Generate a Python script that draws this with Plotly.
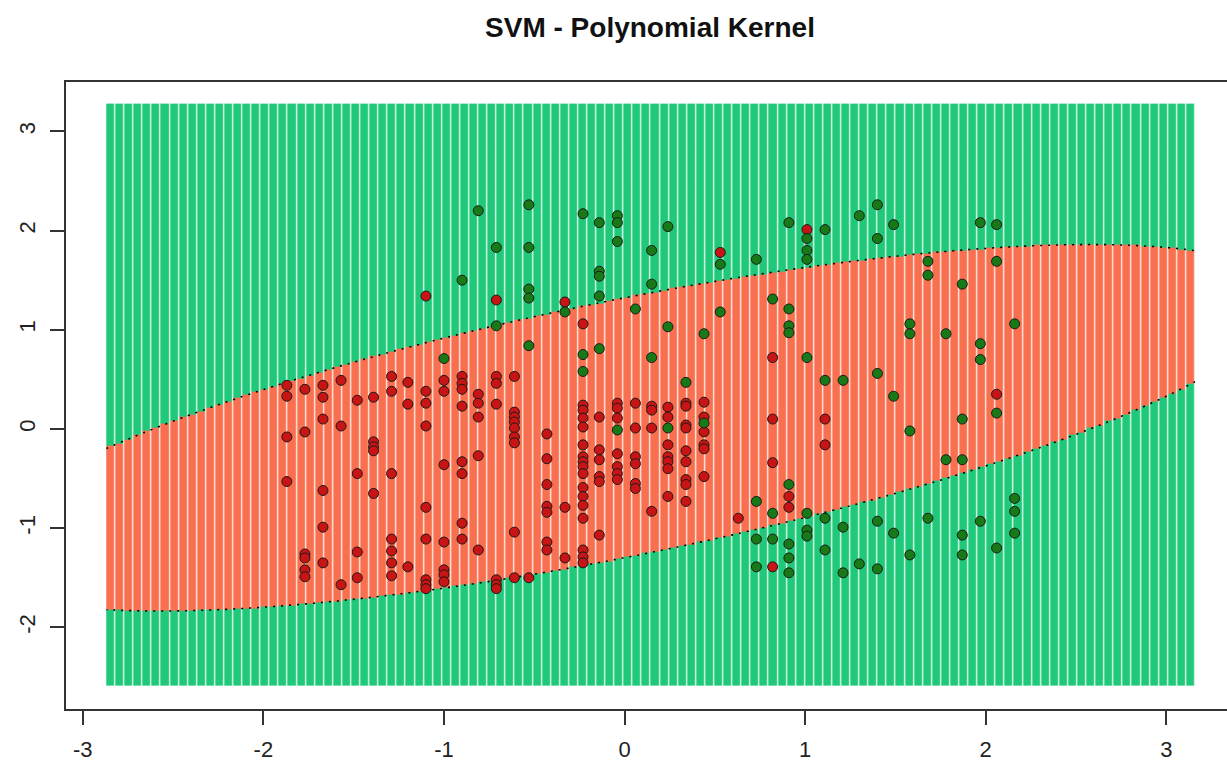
import numpy as np
import plotly.graph_objects as go

TITLE = "SVM - Polynomial Kernel"

# Observations of the "red" class (x1, x2), listed column by column
red_x = (
    [-1.87] * 4 + [-1.77] * 6 + [-1.67] * 6 + [-1.57] * 3 + [-1.48] * 4 + [-1.39] * 5
    + [-1.29] * 7 + [-1.20] * 3 + [-1.10] * 9 + [-1.00] * 7 + [-0.90] * 8 + [-0.81] * 5
    + [-0.71] * 7 + [-0.61] * 9 + [-0.53] * 1 + [-0.43] * 7 + [-0.33] * 3 + [-0.23] * 17
    + [-0.14] * 6 + [-0.04] * 7 + [0.06] * 6 + [0.15] * 4 + [0.24] * 7 + [0.34] * 9
    + [0.44] * 6 + [0.53] * 1 + [0.63] * 1 + [0.82] * 4 + [0.91] * 2 + [1.01] * 1
    + [1.11] * 2 + [2.06] * 1
)
red_y = [
    0.44, 0.33, -0.08, -0.53,
    0.40, -0.03, -1.26, -1.30, -1.42, -1.49,
    0.44, 0.32, 0.10, -0.62, -0.99, -1.35,
    0.49, 0.03, -1.57,
    0.29, -0.45, -1.24, -1.50,
    0.32, -0.13, -0.18, -0.22, -0.65,
    0.53, 0.38, -0.45, -1.11, -1.23, -1.35, -1.48,
    0.47, 0.25, -1.39,
    1.34, 0.38, 0.26, 0.03, -0.79, -1.11, -1.52, -1.57, -1.61,
    0.49, 0.38, -0.36, -1.14, -1.42, -1.47, -1.54,
    0.53, 0.46, 0.40, 0.23, -0.33, -0.45, -0.95, -1.11,
    0.35, 0.26, 0.12, -0.27, -1.22,
    1.30, 0.53, 0.46, 0.25, -1.52, -1.57, -1.61,
    0.53, 0.17, 0.12, 0.07, 0.01, -0.08, -0.14, -1.04, -1.50,
    -1.50,
    -0.05, -0.30, -0.56, -0.78, -0.84, -1.14, -1.22,
    1.28, -0.79, -1.30,
    1.06, 0.24, 0.19, 0.11, 0.02, -0.16, -0.28, -0.33, -0.38, -0.45, -0.59, -0.68, -0.77,
    -0.90, -1.22, -1.29, -1.35,
    0.12, -0.21, -0.31, -0.48, -0.53, -1.07,
    0.26, 0.21, 0.11, -0.25, -0.38, -0.45, -0.51,
    0.26, 0.01, -0.28, -0.35, -0.55, -0.60,
    0.23, 0.19, 0.01, -0.83,
    0.22, 0.12, -0.16, -0.28, -0.33, -0.40, -0.68,
    0.26, 0.23, 0.04, 0.01, -0.22, -0.33, -0.51, -0.56, -0.73,
    0.27, 0.12, -0.03, -0.16, -0.20, -0.48,
    1.78,
    -0.90,
    0.72, 0.10, -0.34, -1.39,
    -0.68, -0.79,
    2.01,
    0.10, -0.16,
    0.35,
]

# Observations of the "green" class (x1, x2)
green_x = (
    [-1.00] * 1 + [-0.90] * 1 + [-0.81] * 1 + [-0.71] * 2 + [-0.53] * 5 + [-0.33] * 1
    + [-0.23] * 3 + [-0.14] * 5 + [-0.04] * 4 + [0.06] * 1 + [0.15] * 3 + [0.24] * 3
    + [0.34] * 1 + [0.44] * 2 + [0.53] * 2 + [0.73] * 4 + [0.82] * 3 + [0.91] * 8
    + [1.01] * 7 + [1.11] * 4 + [1.21] * 3 + [1.30] * 2 + [1.40] * 5 + [1.49] * 3
    + [1.58] * 4 + [1.68] * 3 + [1.78] * 2 + [1.87] * 5 + [1.97] * 4 + [2.06] * 4
    + [2.16] * 4
)
green_y = [
    0.71,
    1.50,
    2.20,
    1.83, 1.04,
    2.26, 1.83, 1.41, 1.32, 0.84,
    1.18,
    2.17, 0.75, 0.58,
    2.08, 1.59, 1.54, 1.34, 0.81,
    2.15, 2.08, 1.89, -0.01,
    1.21,
    1.80, 1.46, 0.72,
    2.04, 1.03, 0.01,
    0.47,
    0.96, 0.06,
    1.66, 1.18,
    1.71, -0.73, -1.11, -1.39,
    1.31, -0.85, -1.11,
    2.08, 1.21, 1.04, 0.97, -0.56, -1.16, -1.30, -1.45,
    1.92, 1.80, 1.71, 0.72, -0.85, -1.02, -1.08,
    2.01, 0.49, -0.90, -1.22,
    0.49, -0.99, -1.45,
    2.15, -1.36,
    2.26, 1.92, 0.56, -0.93, -1.41,
    2.06, 0.33, -1.05,
    1.06, 0.96, -0.02, -1.27,
    1.69, 1.55, -0.90,
    0.96, -0.31,
    1.46, 0.10, -0.31, -1.07, -1.27,
    2.08, 0.86, 0.70, -0.93,
    2.06, 1.69, 0.16, -1.20,
    1.06, -0.70, -0.83, -1.05,
]

# Fitted decision function (degree-2 polynomial kernel):
# f = const + a*x + b*y + c*x^2 + d*x*y + e*y^2 ; f > 0 -> "red" class
coef_const, coef_x, coef_y = 1.716, -0.0085, 0.024
coef_xx, coef_xy, coef_yy = -0.255, 0.712, -1.0

# Prediction grid extent and resolution
grid_x_range = [-2.87, 3.16]
grid_y_range = [-2.59, 3.28]
grid_nx, grid_ny = 120, 420

x_ticks = [-3, -2, -1, 0, 1, 2, 3]
y_ticks = [-2, -1, 0, 1, 2, 3]

GREEN_REGION = "#1fc979"
RED_REGION = "#f8704f"
GREEN_POINT = "#177a17"
RED_POINT = "#c81414"
AXIS_COLOR = "#333333"
FONT = "Liberation Sans, Arial, sans-serif"


def decision(x, y):
    return (coef_const + coef_x * x + coef_y * y
            + coef_xx * x ** 2 + coef_xy * x * y + coef_yy * y ** 2)


dx = (grid_x_range[1] - grid_x_range[0]) / grid_nx
dy = (grid_y_range[1] - grid_y_range[0]) / grid_ny
gx = np.linspace(grid_x_range[0] + dx / 2, grid_x_range[1] - dx / 2, grid_nx)
gy = np.linspace(grid_y_range[0] + dy / 2, grid_y_range[1] - dy / 2, grid_ny)
GX, GY = np.meshgrid(gx, gy)
pred = (decision(GX, GY) > 0).astype(int)

fig = go.Figure()

# Predicted class over the grid, drawn as vertical strips
fig.add_trace(go.Heatmap(
    x=gx, y=gy, z=pred,
    zmin=0, zmax=1,
    colorscale=[[0, GREEN_REGION], [1, RED_REGION]],
    showscale=False, xgap=1.2, ygap=0,
    hoverinfo="skip",
))

# Decision boundary f = 0
cx = np.linspace(grid_x_range[0], grid_x_range[1], 500)
cy = np.linspace(grid_y_range[0], grid_y_range[1], 500)
CX, CY = np.meshgrid(cx, cy)
fig.add_trace(go.Contour(
    x=cx, y=cy, z=decision(CX, CY),
    contours=dict(start=0, end=0, size=1, coloring="lines", showlabels=False),
    colorscale=[[0, "black"], [1, "black"]],
    line=dict(width=1.6, dash="2px,6px"),
    showscale=False, hoverinfo="skip",
))

marker_line = dict(color="#1a1a1a", width=1)
fig.add_trace(go.Scatter(
    x=red_x, y=red_y, mode="markers", name="red",
    marker=dict(size=10, color=RED_POINT, line=marker_line),
))
fig.add_trace(go.Scatter(
    x=green_x, y=green_y, mode="markers", name="green",
    marker=dict(size=10, color=GREEN_POINT, line=marker_line),
))

fig.update_layout(
    width=1227, height=763,
    margin=dict(l=66, r=0, t=82, b=54),
    paper_bgcolor="white", plot_bgcolor="white",
    showlegend=False,
    font=dict(family=FONT, color="#222222"),
    title=dict(
        text=TITLE, xref="container", x=650 / 1227, xanchor="center",
        yref="container", y=1 - 27 / 763, yanchor="middle",
        font=dict(family=FONT, size=28, weight="bold", color="#111111"),
    ),
)
fig.update_xaxes(
    range=[-3.093, 3.336],
    tickvals=x_ticks, ticktext=[str(v) for v in x_ticks],
    showgrid=False, zeroline=False,
    showline=True, mirror=True, linecolor=AXIS_COLOR, linewidth=2,
    ticks="outside", ticklen=14, tickwidth=2, tickcolor=AXIS_COLOR,
    tickfont=dict(size=22, family=FONT, color="#222222"),
    ticklabelstandoff=6,
)
fig.update_yaxes(
    range=[-2.823, 3.498],
    tickvals=y_ticks, ticktext=[str(v) for v in y_ticks],
    showgrid=False, zeroline=False,
    showline=True, mirror=False, linecolor=AXIS_COLOR, linewidth=2,
    ticks="outside", ticklen=14, tickwidth=2, tickcolor=AXIS_COLOR,
    tickangle=-90,
    tickfont=dict(size=22, family=FONT, color="#222222"),
    ticklabelstandoff=6,
)

fig.write_html("out.html")
